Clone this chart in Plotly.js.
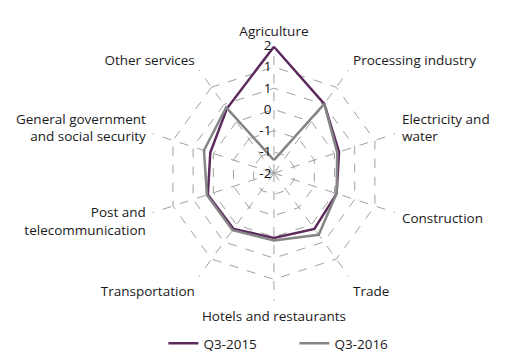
<!DOCTYPE html>
<html><head><meta charset="utf-8">
<script src="https://cdn.plot.ly/plotly-3.0.1.min.js"></script>
<style>html,body{margin:0;padding:0;background:#fff}#chart{width:512px;height:359px}</style>
</head><body><div id="chart"></div>
<script>
const categories = ["Agriculture","Processing industry","Electricity and<br>water","Construction","Trade","Hotels and restaurants","Transportation","Post and<br>telecommunication","General government<br>and social security","Other services"];
const q3_2015 = [1.97, 0.69, 0.15, 0.07, 0.16, 0.03, 0.16, 0.18, 0.10, 0.51];
const q3_2016 = [-1.59, 0.69, 0.09, 0.07, 0.39, 0.11, 0.21, 0.21, 0.31, 0.55];
const radialTicks = [-2, -1.333, -0.667, 0, 0.667, 1.333, 2];
const radialTickText = ["-2","-1","-1","0","1","1","2"];

function closed(a){return a.concat([a[0]]);}
const theta = closed(categories);

const traces = [
  {type:"scatterpolar", r: closed(q3_2015), theta: theta, mode:"lines", name:"Q3-2015",
   line:{color:"#5c2a5d", width:2.5}},
  {type:"scatterpolar", r: closed(q3_2016), theta: theta, mode:"lines", name:"Q3-2016",
   line:{color:"#858585", width:2.5}}
];
const layout = {
  width:512, height:359, margin:{l:0,r:0,t:0,b:0},
  paper_bgcolor:"#fff",
  font:{family:"Open Sans", size:12, color:"#1a1a1a"},
  showlegend:true,
  legend:{orientation:"h", x:0.575, xanchor:"center", y:-0.02, yanchor:"bottom", font:{size:13.5}, entrywidth:86},
  polar:{
    domain:{x:[0.281,0.789], y:[0.146,0.870]},
    gridshape:"linear",
    bgcolor:"rgba(0,0,0,0)",
    radialaxis:{range:[-2,2], angle:90, tickangle:90, side:"counterclockwise",
      tickvals:radialTicks, ticktext:radialTickText, showline:false, ticks:"",
      gridcolor:"#a0a0a0", griddash:"dash", gridwidth:1,
      tickfont:{size:13.5, color:"#111"}},
    angularaxis:{direction:"clockwise", rotation:90, showline:false,
      gridcolor:"#a0a0a0", griddash:"dash", gridwidth:1,
      ticks:"outside", ticklen:4, tickcolor:"rgba(0,0,0,0)",
      tickfont:{size:13.5, color:"#1a1a1a"}}
  }
};
Plotly.newPlot("chart", traces, layout, {staticPlot:true});
</script></body></html>
